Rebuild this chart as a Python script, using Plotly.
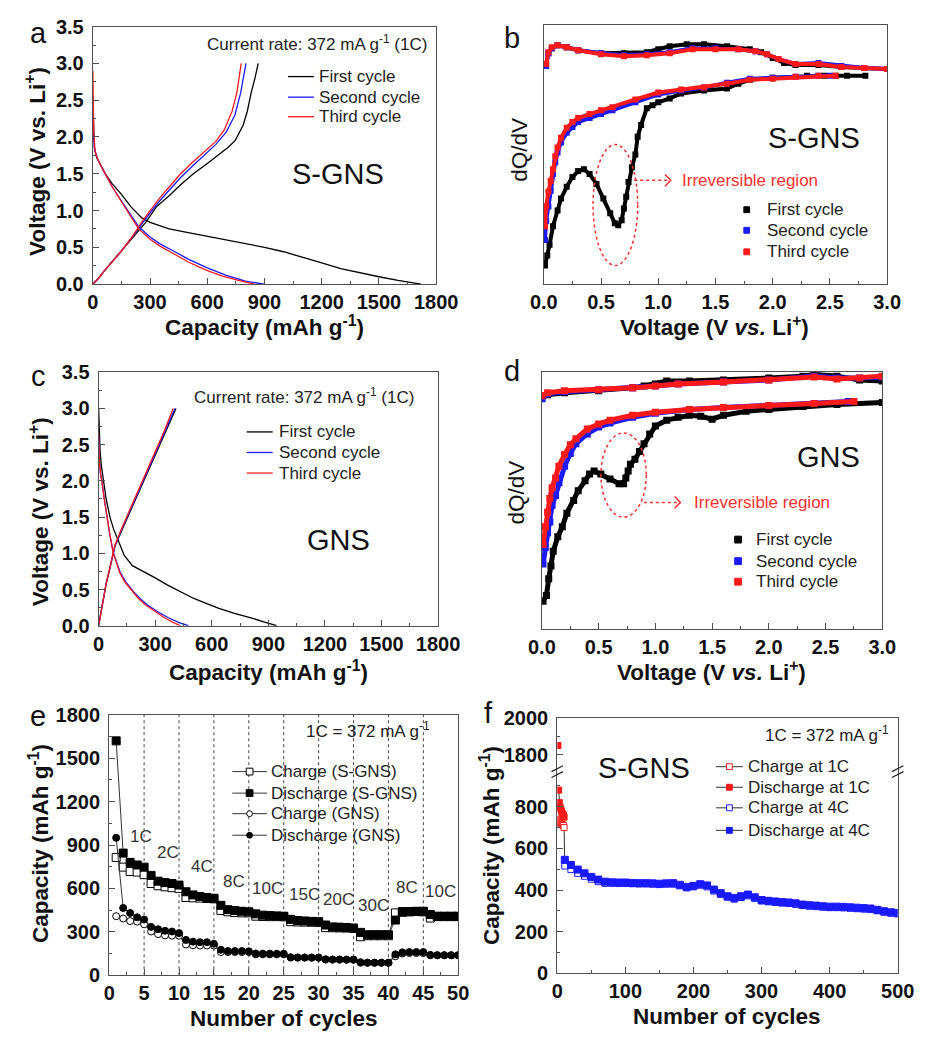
import plotly.graph_objects as go

W, H = 937, 1042
FONT = "Arial, 'Liberation Sans', sans-serif"
AXC = "#505050"
BLK, BLU, RED = "#000000", "#1a1aff", "#ff1a1a"


def px(x):
    return x / W


def py(y):
    return 1 - y / H


# ---------------- (a) S-GNS charge/discharge profiles ----------------
a_dis1_cap = [0, 3, 8, 20, 40, 70, 100, 150, 200, 257, 300, 400, 500, 600, 700, 800, 900, 1000, 1100, 1200, 1300, 1400, 1500, 1600, 1680, 1720]
a_dis1_v = [2.5, 2.1, 1.85, 1.72, 1.62, 1.48, 1.37, 1.22, 1.05, 0.9, 0.84, 0.75, 0.7, 0.65, 0.61, 0.56, 0.5, 0.44, 0.37, 0.29, 0.21, 0.15, 0.1, 0.05, 0.01, 0.0]
a_chg1_cap = [0, 30, 60, 100, 150, 200, 240, 274, 333, 400, 460, 527, 600, 660, 710, 746, 788, 810, 830, 850, 867]
a_chg1_v = [0.0, 0.08, 0.18, 0.3, 0.45, 0.6, 0.72, 0.83, 1.05, 1.2, 1.35, 1.5, 1.64, 1.76, 1.86, 1.95, 2.16, 2.35, 2.6, 2.8, 3.0]
a_dis2_cap = [0, 3, 10, 25, 50, 100, 150, 200, 240, 300, 350, 430, 500, 600, 700, 800, 897]
a_dis2_v = [2.3, 2.05, 1.82, 1.7, 1.57, 1.33, 1.13, 0.94, 0.78, 0.64, 0.55, 0.44, 0.34, 0.22, 0.12, 0.04, 0.0]
a_chg2_cap = [0, 30, 60, 100, 150, 200, 250, 300, 350, 400, 460, 520, 580, 645, 700, 745, 775, 803]
a_chg2_v = [0.0, 0.08, 0.18, 0.3, 0.45, 0.62, 0.8, 0.97, 1.13, 1.28, 1.45, 1.6, 1.74, 1.9, 2.07, 2.3, 2.6, 3.0]
a_dis3_cap = [0, 2, 5, 12, 25, 50, 100, 150, 200, 240, 300, 350, 426, 500, 594, 680, 763, 847]
a_dis3_v = [2.9, 2.4, 2.05, 1.8, 1.7, 1.57, 1.33, 1.12, 0.92, 0.75, 0.61, 0.52, 0.41, 0.3, 0.19, 0.11, 0.05, 0.0]
a_chg3_cap = [0, 30, 60, 100, 150, 200, 250, 300, 350, 400, 460, 520, 580, 645, 690, 730, 755, 778]
a_chg3_v = [0.0, 0.08, 0.18, 0.3, 0.45, 0.62, 0.82, 1.0, 1.17, 1.32, 1.5, 1.65, 1.79, 1.94, 2.1, 2.35, 2.6, 3.0]

# ---------------- (b) S-GNS dQ/dV (a.u.) ----------------
b_dis1_v = [0.01, 0.03, 0.05, 0.08, 0.12, 0.15, 0.20, 0.25, 0.30, 0.35, 0.40, 0.46, 0.52, 0.58, 0.62, 0.65, 0.68, 0.70, 0.72, 0.74, 0.77, 0.80, 0.82, 0.85, 0.90, 0.95, 1.00, 1.10, 1.20, 1.40, 1.60, 1.70, 1.80, 2.00, 2.30, 2.45, 2.55, 2.65, 2.81]
b_dis1_q = [-198, -188, -177, -158, -142, -130, -118, -108, -102, -100, -105, -115, -130, -145, -155, -157, -152, -140, -128, -113, -98, -85, -67, -55, -38, -35, -32, -28, -23, -20, -18, -13, -9, -7, -5, -5, -5, -5, -5]
b_chg1_v = [0.02, 0.04, 0.07, 0.12, 0.2, 0.3, 0.5, 0.7, 0.9, 1.0, 1.1, 1.25, 1.4, 1.6, 1.8, 1.9, 2.0, 2.1, 2.2, 2.4, 2.6, 2.8, 3.0]
b_chg1_q = [7, 18, 23, 26, 24, 21, 18, 18, 19, 22, 25, 27, 27, 25, 22, 19, 13, 8, 6, 6, 4, 3, 2]
b_dis2_v = [0.01, 0.02, 0.04, 0.06, 0.08, 0.10, 0.12, 0.15, 0.20, 0.25, 0.30, 0.40, 0.50, 0.60, 0.80, 1.00, 1.20, 1.40, 1.60, 1.80, 2.00, 2.20, 2.40, 2.50]
b_dis2_q = [-172, -153, -138, -122, -105, -93, -83, -73, -63, -57, -52, -48, -44, -40, -32, -24, -20, -17, -12, -8, -7, -6, -5, -5]
b_chg2_v = [0.02, 0.04, 0.07, 0.12, 0.2, 0.3, 0.5, 0.7, 0.9, 1.1, 1.3, 1.5, 1.7, 1.85, 1.95, 2.05, 2.2, 2.4, 2.6, 2.8, 3.0]
b_chg2_q = [5, 18, 23, 26, 24, 21, 18, 16, 17, 19, 23, 23, 22, 20, 17, 12, 7, 8, 5, 3, 2]
b_dis3_v = [0.01, 0.02, 0.04, 0.06, 0.08, 0.10, 0.12, 0.15, 0.20, 0.25, 0.30, 0.40, 0.50, 0.60, 0.80, 1.00, 1.20, 1.40, 1.60, 1.80, 2.00, 2.20, 2.40, 2.55]
b_dis3_q = [-158, -138, -123, -112, -100, -87, -78, -68, -58, -52, -48, -44, -40, -37, -29, -22, -19, -17, -13, -9, -8, -6, -5, -5]
b_chg3_v = [0.02, 0.04, 0.07, 0.12, 0.2, 0.3, 0.5, 0.7, 0.9, 1.1, 1.3, 1.5, 1.7, 1.85, 1.95, 2.05, 2.2, 2.4, 2.6, 2.8, 3.0]
b_chg3_q = [7, 19, 24, 26, 24, 21, 17, 15, 16, 18, 22, 22, 22, 20, 17, 12, 7, 7, 4, 3, 2]

# ---------------- (c) GNS charge/discharge profiles ----------------
c_dis1_cap = [0, 3, 8, 15, 26, 40, 60, 80, 102, 136, 179, 247, 300, 366, 430, 502, 570, 638, 720, 808, 880, 944]
c_dis1_v = [3.0, 2.7, 2.4, 2.2, 2.0, 1.75, 1.5, 1.33, 1.19, 0.97, 0.83, 0.74, 0.66, 0.56, 0.47, 0.38, 0.31, 0.24, 0.17, 0.11, 0.05, 0.0]
c_chg1_cap = [0, 20, 40, 60, 87, 125, 166, 208, 260, 310, 360, 410]
c_chg1_v = [0.0, 0.3, 0.58, 0.8, 1.1, 1.33, 1.57, 1.8, 2.1, 2.4, 2.7, 3.0]
c_dis2_cap = [0, 3, 10, 17, 30, 43, 60, 78, 97, 114, 145, 185, 218, 257, 315, 370, 430, 476]
c_dis2_v = [2.6, 2.3, 2.1, 2.0, 1.75, 1.5, 1.25, 1.01, 0.86, 0.74, 0.6, 0.47, 0.38, 0.29, 0.19, 0.11, 0.04, 0.0]
c_chg2_cap = [0, 20, 40, 60, 86, 122, 162, 203, 254, 304, 354, 405]
c_chg2_v = [0.0, 0.3, 0.58, 0.8, 1.1, 1.33, 1.57, 1.8, 2.1, 2.4, 2.7, 3.0]
c_dis3_cap = [0, 3, 10, 17, 30, 43, 60, 77, 95, 111, 140, 179, 210, 247, 300, 349, 400, 434]
c_dis3_v = [2.65, 2.3, 2.1, 2.0, 1.75, 1.5, 1.25, 1.01, 0.86, 0.74, 0.6, 0.47, 0.38, 0.29, 0.19, 0.11, 0.04, 0.0]
c_chg3_cap = [0, 20, 40, 60, 85, 120, 160, 200, 250, 300, 350, 395]
c_chg3_v = [0.0, 0.3, 0.58, 0.8, 1.1, 1.33, 1.57, 1.8, 2.1, 2.4, 2.7, 3.0]

# ---------------- (d) GNS dQ/dV (a.u.) ----------------
d_dis1_v = [0.01, 0.04, 0.06, 0.08, 0.10, 0.14, 0.18, 0.22, 0.28, 0.32, 0.38, 0.42, 0.46, 0.52, 0.60, 0.68, 0.72, 0.74, 0.76, 0.78, 0.82, 0.86, 0.90, 0.95, 1.00, 1.10, 1.20, 1.30, 1.40, 1.50, 1.60, 1.80, 2.00, 2.30, 2.60, 3.00]
d_dis1_q = [-203, -197, -180, -167, -152, -137, -127, -113, -100, -90, -80, -73, -70, -73, -78, -83, -83, -77, -70, -63, -58, -50, -42, -32, -24, -18, -15, -13, -14, -17, -13, -9, -7, -4, -2, 0]
d_chg1_v = [0.0, 0.05, 0.2, 0.5, 0.8, 0.9, 1.0, 1.1, 1.3, 1.6, 2.0, 2.3, 2.4, 2.6, 2.8, 3.0]
d_chg1_q = [5, 8, 10, 12, 15, 17, 19, 22, 22, 23, 25, 27, 29, 27, 23, 22]
d_dis2_v = [0.01, 0.03, 0.05, 0.07, 0.09, 0.12, 0.15, 0.20, 0.25, 0.30, 0.40, 0.50, 0.60, 0.80, 1.00, 1.30, 1.60, 2.00, 2.40, 2.70]
d_dis2_q = [-165, -148, -133, -122, -105, -95, -82, -65, -52, -42, -32, -25, -21, -15, -11, -7, -5, -3, -1, 1]
d_chg2_v = [0.0, 0.05, 0.2, 0.5, 0.8, 1.0, 1.2, 1.6, 2.0, 2.4, 2.6, 2.8, 3.0]
d_chg2_q = [4, 9, 11, 13, 15, 17, 19, 21, 23, 27, 25, 25, 26]
d_dis3_v = [0.01, 0.03, 0.05, 0.07, 0.09, 0.12, 0.15, 0.20, 0.25, 0.30, 0.40, 0.50, 0.60, 0.80, 1.00, 1.30, 1.60, 2.00, 2.40, 2.75]
d_dis3_q = [-145, -127, -112, -98, -87, -77, -65, -53, -43, -37, -27, -22, -18, -13, -10, -7, -5, -3, -1, 1]
d_chg3_v = [0.0, 0.05, 0.2, 0.5, 0.8, 1.0, 1.2, 1.6, 2.0, 2.4, 2.6, 2.8, 3.0]
d_chg3_q = [7, 10, 12, 13, 15, 17, 19, 21, 23, 26, 24, 25, 27]

cycle_names = ["First cycle", "Second cycle", "Third cycle"]
cycle_colors = [BLK, BLU, RED]

# ---------------- (e) rate capability ----------------
e_cycles = list(range(1, 51))
sgns_chg = [814, 747, 717, 713, 695, 634, 618, 611, 605, 600, 537, 535, 533, 530, 528, 447, 438, 433, 431, 431,
            408, 406, 405, 405, 404, 370, 368, 367, 366, 365, 329, 328, 327, 326, 325, 266, 273, 273, 273, 273,
            431, 440, 440, 440, 438, 395, 405, 405, 405, 405]
sgns_dis = [1620, 844, 780, 762, 747, 690, 650, 640, 634, 623, 577, 555, 544, 537, 532, 483, 453, 447, 442, 438,
            424, 415, 412, 410, 408, 386, 378, 375, 372, 370, 347, 334, 332, 330, 325, 296, 280, 280, 280, 280,
            381, 435, 438, 442, 442, 420, 408, 408, 408, 408]
gns_chg = [408, 392, 374, 370, 352, 302, 284, 275, 273, 273, 212, 207, 205, 205, 205, 160, 160, 160, 160, 160,
           144, 144, 144, 144, 144, 122, 122, 122, 122, 122, 108, 108, 108, 108, 108, 86, 86, 86, 86, 86,
           131, 150, 153, 153, 153, 138, 138, 138, 138, 138]
gns_dis = [950, 465, 430, 400, 385, 334, 318, 307, 302, 291, 244, 232, 228, 228, 217, 176, 167, 167, 167, 165,
           150, 149, 149, 148, 148, 124, 122, 122, 121, 121, 110, 108, 108, 107, 107, 90, 86, 86, 86, 86,
           144, 158, 160, 160, 160, 140, 138, 138, 138, 138]
e_names = ["Charge (S-GNS)", "Discharge (S-GNS)", "Charge (GNS)", "Discharge (GNS)"]
rate_bounds = [5, 10, 15, 20, 25, 30, 35, 40, 45]
rate_labels = ["1C", "2C", "4C", "8C", "10C", "15C", "20C", "30C", "8C", "10C"]
rate_x = [4.5, 8.4, 13.3, 17.9, 22.7, 28.0, 32.8, 37.8, 42.7, 47.5]
rate_y = [960, 848, 751, 645, 600, 559, 521, 483, 604, 577]

# ---------------- (f) long-term cycling of S-GNS ----------------
f_cyc_1c = list(range(1, 11))
f_chg_1c = [740, 735, 730, 725, 720, 718, 715, 712, 710, 700]
f_dis_1c = [1850, 880, 820, 800, 790, 780, 770, 765, 760, 750]
f_cyc_4c = [11] + list(range(20, 501, 10))
f_dis_4c = [545, 520, 498, 480, 463, 450, 440, 437, 436, 436, 434, 433, 433, 432, 430, 432, 433, 425, 415, 420,
            428, 422, 402, 385, 370, 362, 370, 378, 365, 352, 348, 345, 342, 340, 336, 330, 327, 325, 322, 320,
            320, 319, 317, 315, 313, 311, 305, 298, 293, 290]
f_chg_4c = [515, 498, 480, 466, 452, 440, 432, 432, 431, 431, 430, 429, 429, 428, 426, 428, 428, 420, 410, 415,
            423, 415, 395, 378, 365, 356, 364, 372, 360, 347, 343, 340, 337, 335, 331, 325, 322, 320, 317, 315,
            315, 314, 312, 310, 308, 306, 300, 293, 288, 285]
f_names = ["Charge at 1C", "Discharge at 1C", "Charge at 4C", "Discharge at 4C"]
F_LOW_MAX = 969
F_UP_RANGE = [1710, 2000]

fig = go.Figure()


def lines(x, y, color, name, ax):
    fig.add_trace(go.Scatter(x=x, y=y, mode="lines", name=name, line=dict(color=color, width=1.3),
                             xaxis="x" + ax, yaxis="y" + ax, showlegend=False))


def dots(x, y, color, name, ax, size):
    fig.add_trace(go.Scatter(x=x, y=y, mode="lines+markers", name=name,
                             line=dict(color=color, width=size - 2),
                             marker=dict(symbol="square", size=size, color=color, line=dict(width=0)),
                             xaxis="x" + ax, yaxis="y" + ax, showlegend=False))


# (a)
a_sets = [(a_dis1_cap, a_dis1_v, a_chg1_cap, a_chg1_v), (a_dis2_cap, a_dis2_v, a_chg2_cap, a_chg2_v),
          (a_dis3_cap, a_dis3_v, a_chg3_cap, a_chg3_v)]
for (xd, yd, xc, yc), col, nm in zip(a_sets, cycle_colors, cycle_names):
    lines(xd + [None] + xc, yd + [None] + yc, col, nm, "")
# (c)
c_sets = [(c_dis1_cap, c_dis1_v, c_chg1_cap, c_chg1_v), (c_dis2_cap, c_dis2_v, c_chg2_cap, c_chg2_v),
          (c_dis3_cap, c_dis3_v, c_chg3_cap, c_chg3_v)]
for (xd, yd, xc, yc), col, nm in zip(c_sets, cycle_colors, cycle_names):
    lines(xd + [None] + xc, yd + [None] + yc, col, nm, "3")
# (b)
b_sets = [(b_dis1_v, b_dis1_q, b_chg1_v, b_chg1_q), (b_dis2_v, b_dis2_q, b_chg2_v, b_chg2_q),
          (b_dis3_v, b_dis3_q, b_chg3_v, b_chg3_q)]
for (vd, qd, vc, qc), col, nm in zip(b_sets, cycle_colors, cycle_names):
    dots(vd + [None] + vc, qd + [None] + qc, col, nm, "2", 6)
# (d)
d_sets = [(d_dis1_v, d_dis1_q, d_chg1_v, d_chg1_q), (d_dis2_v, d_dis2_q, d_chg2_v, d_chg2_q),
          (d_dis3_v, d_dis3_q, d_chg3_v, d_chg3_q)]
for (vd, qd, vc, qc), col, nm in zip(d_sets, cycle_colors, cycle_names):
    dots(vd + [None] + vc, qd + [None] + qc, col, nm, "4", 7)

# (e)
LINEC = "#333333"
e_styles = [("square", "white", 8), ("square", "black", 8), ("circle", "white", 7), ("circle", "black", 7)]
for y, (sym, fill, sz), nm in zip([sgns_chg, sgns_dis, gns_chg, gns_dis], e_styles, e_names):
    fig.add_trace(go.Scatter(x=e_cycles, y=y, mode="lines+markers", name=nm,
                             line=dict(color=LINEC, width=1),
                             marker=dict(symbol=sym, size=sz, color=fill, line=dict(color="black", width=1)),
                             xaxis="x5", yaxis="y5", showlegend=False))


# (f)
def f_series(xs, ys, fill, edge, nm, sz):
    low = [(x, y) for x, y in zip(xs, ys) if y <= F_LOW_MAX]
    up = [(x, y) for x, y in zip(xs, ys) if y > F_LOW_MAX]
    mk = dict(symbol="square", size=sz, color=fill, line=dict(color=edge, width=1))
    fig.add_trace(go.Scatter(x=[p[0] for p in low], y=[p[1] for p in low], mode="lines+markers", name=nm,
                             line=dict(color=LINEC, width=1), marker=mk,
                             xaxis="x6", yaxis="y6", showlegend=False))
    if up:
        fig.add_trace(go.Scatter(x=[p[0] for p in up], y=[p[1] for p in up], mode="markers", marker=mk,
                                 name=nm, showlegend=False, xaxis="x7", yaxis="y7"))


# link between the last 1C charge and the first 4C charge
fig.add_trace(go.Scatter(x=[f_cyc_1c[-1], f_cyc_4c[0]], y=[f_chg_1c[-1], f_chg_4c[0]], mode="lines",
                         line=dict(color=LINEC, width=1), showlegend=False, xaxis="x6", yaxis="y6"))
f_styles = [("white", RED, 6), (RED, RED, 6), ("white", BLU, 6), (BLU, BLU, 7)]
for (xs, ys), (fill, edge, sz), nm in zip([(f_cyc_1c, f_chg_1c), (f_cyc_1c, f_dis_1c),
                                           (f_cyc_4c, f_chg_4c), (f_cyc_4c, f_dis_4c)], f_styles, f_names):
    f_series(xs, ys, fill, edge, nm, sz)

# ---------------- axes ----------------
TICKF = dict(family=FONT, size=20, color="#111111", weight="bold")


def axis(dom, rng, anchor, **kw):
    d = dict(domain=dom, range=rng, anchor=anchor, showline=True, linecolor=AXC, linewidth=1.2, mirror=True,
             ticks="inside", ticklen=6, tickwidth=1, tickcolor=AXC, showgrid=False, zeroline=False,
             tickfont=TICKF)
    d.update(kw)
    return d


def minor(dt):
    return dict(ticks="inside", ticklen=3, dtick=dt, tickcolor=AXC, showgrid=False)


YSO = 4  # gap between y tick labels and the axis line

layout_axes = dict(
    xaxis=axis([px(82), px(439)], [0, 1800], "y", dtick=300, tick0=0, minor=minor(150)),
    yaxis=axis([py(279), py(16)], [0, 3.5], "x", dtick=0.5, tick0=0, tickformat=".1f", minor=minor(0.25),
               ticklabelstandoff=YSO),
    xaxis2=axis([px(551), px(908)], [0, 3], "y2", dtick=0.5, tick0=0, tickformat=".1f", minor=minor(0.25)),
    yaxis2=axis([py(279), py(14)], [-217, 47], "x2", ticks="", showticklabels=False),
    xaxis3=axis([px(88), px(441)], [0, 1800], "y3", dtick=300, tick0=0, minor=minor(150)),
    yaxis3=axis([py(628), py(369)], [0, 3.5], "x3", dtick=0.5, tick0=0, tickformat=".1f", minor=minor(0.25),
                ticklabelstandoff=YSO),
    xaxis4=axis([px(549), px(903)], [0, 3], "y4", dtick=0.5, tick0=0, tickformat=".1f", minor=minor(0.25)),
    yaxis4=axis([py(631), py(369)], [-231, 31], "x4", ticks="", showticklabels=False),
    xaxis5=axis([px(99), px(462)], [0, 50], "y5", dtick=5, tick0=0, minor=minor(2.5)),
    yaxis5=axis([py(985), py(719)], [0, 1800], "x5", dtick=300, tick0=0, minor=minor(150),
                ticklabelstandoff=YSO),
    xaxis6=axis([px(565), px(919)], [0, 500], "y6", dtick=100, tick0=0, minor=minor(50), mirror=False),
    yaxis6=axis([py(983), py(777)], [0, F_LOW_MAX], "x6", dtick=200, tick0=0, minor=minor(100),
                ticklabelstandoff=YSO),
    xaxis7=axis([px(565), px(919)], [0, 500], "y7", side="top", ticks="", showticklabels=False, mirror=False),
    yaxis7=axis([py(777), py(722)], F_UP_RANGE, "x7", tickvals=[1800, 2000], ticklabelstandoff=YSO,
                minor=dict(ticks="inside", ticklen=3, tickvals=[1900], tickcolor=AXC)),
)

# ---------------- annotations ----------------
ann = []
shapes = []


def text(x, y, s, size=17, bold=False, color="#111111", xanchor="center", angle=0):
    ann.append(dict(x=px(x), y=py(y), xref="paper", yref="paper", text=s, showarrow=False,
                    xanchor=xanchor, yanchor="middle", textangle=angle,
                    font=dict(family=FONT, size=size, color=color, weight="bold" if bold else "normal")))


for lx, ly, s in [(25, 22, "a"), (518, 28, "b"), (25, 373, "c"), (518, 368, "d"), (25, 720, "e"), (493, 717, "f")]:
    text(lx, ly, s, size=29)

TS = 22.5
cap_t = "Capacity (mAh g<sup>-1</sup>)"
volt_t = "Voltage (V vs. Li<sup>+</sup>)"
volt_i = "Voltage (V <i>vs.</i> Li<sup>+</sup>)"
text(261, 322, cap_t, TS, True)
text(22, 154, volt_t, TS, True, angle=-90)
text(728, 322, volt_i, TS, True)
text(525, 142, "dQ/dV", TS, False, angle=-90)
text(265, 674, cap_t, TS, True)
text(26, 512, volt_t, TS, True, angle=-90)
text(725, 674, volt_i, TS, True)
text(523, 492, "dQ/dV", TS, False, angle=-90)
text(281, 1029, "Number of cycles", TS, True)
text(26, 851, cap_t, TS, True, angle=-90)
text(742, 1027, "Number of cycles", TS, True)
text(495, 852, cap_t, TS, True, angle=-90)

text(199, 33, "Current rate: 372 mA g<sup>-1</sup> (1C)", 17, xanchor="left", color="#222222")
text(185, 393, "Current rate: 372 mA g<sup>-1</sup> (1C)", 17, xanchor="left", color="#222222")
text(302, 735, "1C = 372 mA g<sup>-1</sup>", 17, xanchor="left", color="#222222")
text(779, 739, "1C = 372 mA g<sup>-1</sup>", 17, xanchor="left", color="#222222")

text(337, 167, "S-GNS", 29)
text(832, 130, "S-GNS", 29)
text(337, 540, "GNS", 29)
text(847, 456, "GNS", 29)
text(655, 773, "S-GNS", 29)

IRC = "#ff3030"
text(693, 173, "Irreversible region", 17, xanchor="left", color=IRC)
text(705, 502, "Irreversible region", 17, xanchor="left", color=IRC)

for lab, x, y in zip(rate_labels, rate_x, rate_y):
    ann.append(dict(x=x, y=y, xref="x5", yref="y5", text=lab, showarrow=False,
                    font=dict(family=FONT, size=17, color="#333333")))


# ---------------- legend keys ----------------
def key_line(x0, x1, y, color, width=1.3):
    shapes.append(dict(type="line", xref="paper", yref="paper", x0=px(x0), x1=px(x1), y0=py(y), y1=py(y),
                       line=dict(color=color, width=width)))


def key_marker(x, y, size, kind, fill, edge):
    h = size / 2
    shapes.append(dict(type="rect" if kind == "square" else "circle", xref="paper", yref="paper",
                       x0=px(x - h), x1=px(x + h), y0=py(y + h), y1=py(y - h),
                       fillcolor=fill, line=dict(color=edge, width=1)))


def key_text(x, y, s):
    text(x, y, s, 17, xanchor="left", color="#222222")


for i, (nm, col) in enumerate(zip(cycle_names, cycle_colors)):
    ya = [67, 88, 108][i]
    key_line(285, 312, ya, col)
    key_text(315, ya, nm)
    yc = [430, 451, 472][i]
    key_line(242, 269, yc, col)
    key_text(274, yc, nm)
    yb = [203, 224, 246][i]
    key_marker(762, yb, 6, "square", col, col)
    key_text(781, yb, nm)
    yd = [540, 562, 583][i]
    key_marker(753, yd, 7, "square", col, col)
    key_text(770, yd, nm)

for i, (nm, (sym, fill, sz)) in enumerate(zip(e_names, e_styles)):
    ye = [777, 799, 820, 842][i]
    key_line(227, 263, ye, LINEC, 1)
    key_marker(245, ye, sz - 1, sym, fill, "black")
    key_text(265, ye, nm)

for i, (nm, (fill, edge, sz)) in enumerate(zip(f_names, f_styles)):
    yf = [772, 793, 814, 837][i]
    key_line(730, 758, yf, LINEC, 1)
    key_marker(744, yf, 6, "square", fill, edge)
    key_text(761, yf, nm)

# ---------------- shapes ----------------
for xb in rate_bounds:
    shapes.append(dict(type="line", xref="x5", yref="y5 domain", x0=xb, x1=xb, y0=0, y1=1,
                       line=dict(color="#444444", width=1, dash="dot"), layer="below"))

# irreversible-region ellipses
shapes.append(dict(type="circle", xref="x2", yref="y2", x0=0.43, x1=0.82, y0=-198, y1=-75,
                   line=dict(color=IRC, width=1.5, dash="dot")))
shapes.append(dict(type="circle", xref="x4", yref="y4", x0=0.52, x1=0.92, y0=-117, y1=-31,
                   line=dict(color=IRC, width=1.5, dash="dot")))


def arrow(x0, x1, y):
    shapes.append(dict(type="line", xref="paper", yref="paper", x0=px(x0), x1=px(x1), y0=py(y), y1=py(y),
                       line=dict(color=IRC, width=1.5, dash="dot")))
    shapes.append(dict(type="path", xref="paper", yref="paper",
                       path=f"M {px(x1 - 6)} {py(y - 6)} L {px(x1)} {py(y)} L {px(x1 - 6)} {py(y + 6)}",
                       line=dict(color=IRC, width=1.5)))


arrow(645, 683, 173)
arrow(655, 693, 502)

# axis-break marks on panel (f)
for bx in (565, 919):
    for dy in (-3, 3):
        shapes.append(dict(type="line", xref="paper", yref="paper",
                           x0=px(bx - 6), x1=px(bx + 6), y0=py(777 + dy + 3), y1=py(777 + dy - 3),
                           line=dict(color="#222222", width=1.2)))

fig.update_layout(
    width=W, height=H, margin=dict(l=0, r=0, t=0, b=0),
    paper_bgcolor="white", plot_bgcolor="white", showlegend=False,
    annotations=ann, shapes=shapes,
    **layout_axes,
)

fig.write_html("out.html")
